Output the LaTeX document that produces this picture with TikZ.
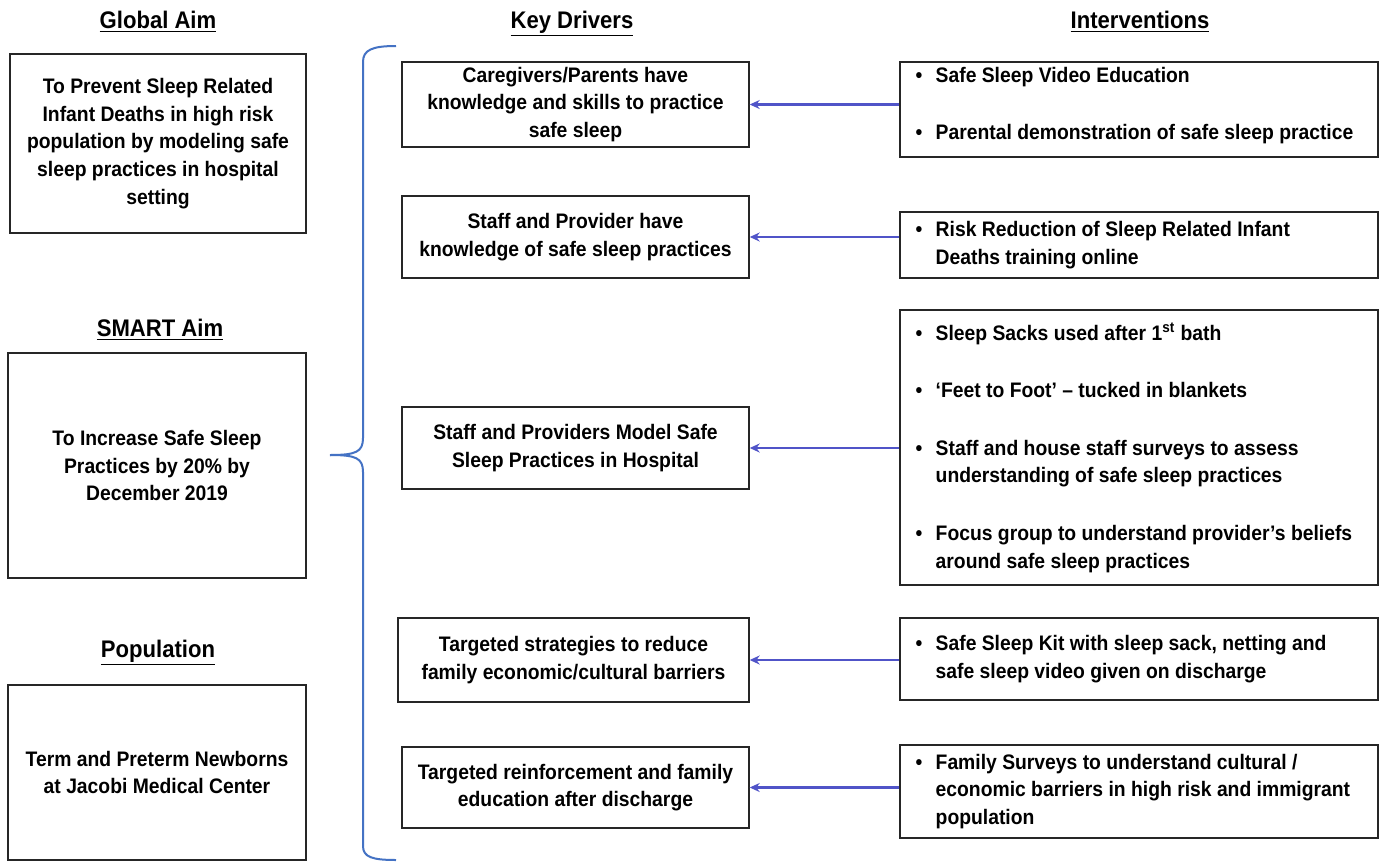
\documentclass[tikz,border=0pt]{standalone}
\usepackage{fontspec}
\setmainfont{Liberation Sans}[FakeStretch=0.92]
\usetikzlibrary{arrows.meta,calc}
\definecolor{braceblue}{RGB}{68,114,196}
\definecolor{arrowblue}{RGB}{80,84,200}
\tikzset{
  txt/.style={font=\bfseries\fontsize{10.5}{13.8}\selectfont},
  hdr/.style={font=\bfseries\fontsize{12}{14}\selectfont, inner sep=0pt, anchor=base},
  box/.style={txt, draw=black!85, line width=0.7pt, align=center, inner sep=0pt},
  ibox/.style={draw=black!85, line width=0.7pt, inner sep=0pt, minimum width=239pt},
  itext/.style={txt, align=left, inner sep=0pt, anchor=west},
  arr/.style={draw=arrowblue, line width=1.3pt, -{Stealth[length=5pt,width=4.5pt]}},
  bracepath/.style={draw=braceblue, line width=1pt}
}
\newcommand\bit{\makebox[10pt][l]{\textbullet}}
\newcommand\bin{\hspace*{10pt}}
\begin{document}
\begin{tikzpicture}[x=0.5pt,y=-0.5pt]
\useasboundingbox[fill=white] (0,0) rectangle (1383,863);

% headers
\node[hdr] (hg) at (158,28) {\underline{Global Aim}};
\node[hdr] (hk) at (572,28) {\underline{Key Drivers}};
\node[hdr] (hi) at (1140,28) {\underline{Interventions}};
\node[hdr] (hs) at (160,336) {\underline{SMART Aim}};
\node[hdr] (hp) at (158,657) {\underline{Population}};

% left column
\node[box, minimum width=148pt, minimum height=89.5pt] (G) at (158,143.5)
  {To Prevent Sleep Related\\Infant Deaths in high risk\\population by modeling safe\\sleep practices in hospital\\setting};
\node[box, minimum width=149pt, minimum height=112.5pt] (S) at (157,465.5)
  {To Increase Safe Sleep\\Practices by 20\% by\\December 2019};
\node[box, minimum width=149pt, minimum height=87.5pt] (P) at (157,772.5)
  {Term and Preterm Newborns\\at Jacobi Medical Center};

% brace
\coordinate (bt) at (396,46);
\coordinate (bm) at (330,455);
\coordinate (bb) at (396,860);
\draw[bracepath] (bt) .. controls (372,46) and (363,50) .. (363,62) -- (363,438)
  .. controls (363,452) and (356,455) .. (bm);
\draw[bracepath] (bm) .. controls (356,455) and (363,458) .. (363,472) -- (363,846)
  .. controls (363,857) and (372,860) .. (bb);

% key drivers
\node[box, minimum width=173.5pt, minimum height=42.5pt] (D1) at (575.5,104.5)
  {Caregivers/Parents have\\knowledge and skills to practice\\safe sleep};
\node[box, minimum width=173.5pt, minimum height=41pt] (D2) at (575.5,237)
  {Staff and Provider have\\knowledge of safe sleep practices};
\node[box, minimum width=173.5pt, minimum height=41pt] (D3) at (575.5,448)
  {Staff and Providers Model Safe\\Sleep Practices in Hospital};
\node[box, minimum width=175.5pt, minimum height=42pt] (D4) at (573.5,660)
  {Targeted strategies to reduce\\family economic/cultural barriers};
\node[box, minimum width=173.5pt, minimum height=40.5pt] (D5) at (575.5,787.5)
  {Targeted reinforcement and family\\education after discharge};

% interventions
\node[ibox, minimum height=47.5pt] (I1) at (1139,109.5) {};
\node[itext] (T1) at ([xshift=8pt,yshift=2pt]I1.west)
  {\bit Safe Sleep Video Education\\[14.5pt]
   \bit Parental demonstration of safe sleep practice};
\node[ibox, minimum height=33pt] (I2) at (1139,245) {};
\node[itext] (T2) at ([xshift=8pt]I2.west)
  {\bit Risk Reduction of Sleep Related Infant\\
   \bin Deaths training online};
\node[ibox, minimum height=137.5pt] (I3) at (1139,447.5) {};
\node[itext] (T3) at ([xshift=8pt]I3.west)
  {\bit Sleep Sacks used after 1\textsuperscript{st} bath\\[15pt]
   \bit ‘Feet to Foot’ – tucked in blankets\\[15pt]
   \bit Staff and house staff surveys to assess\\
   \bin understanding of safe sleep practices\\[15pt]
   \bit Focus group to understand provider’s beliefs\\
   \bin around safe sleep practices};
\node[ibox, minimum height=41pt] (I4) at (1139,659) {};
\node[itext] (T4) at ([xshift=8pt]I4.west)
  {\bit Safe Sleep Kit with sleep sack, netting and\\
   \bin safe sleep video given on discharge};
\node[ibox, minimum height=46.5pt] (I5) at (1139,791.5) {};
\node[itext] (T5) at ([xshift=8pt]I5.west)
  {\bit Family Surveys to understand cultural /\\
   \bin economic barriers in high risk and immigrant\\
   \bin population};

% arrows
\draw[arr] (I1.west |- D1.east) -- (D1.east);
\draw[arr] (I2.west |- D2.east) -- (D2.east);
\draw[arr] (I3.west |- D3.east) -- (D3.east);
\draw[arr] (I4.west |- D4.east) -- (D4.east);
\draw[arr] (I5.west |- D5.east) -- (D5.east);
\end{tikzpicture}
\end{document}
